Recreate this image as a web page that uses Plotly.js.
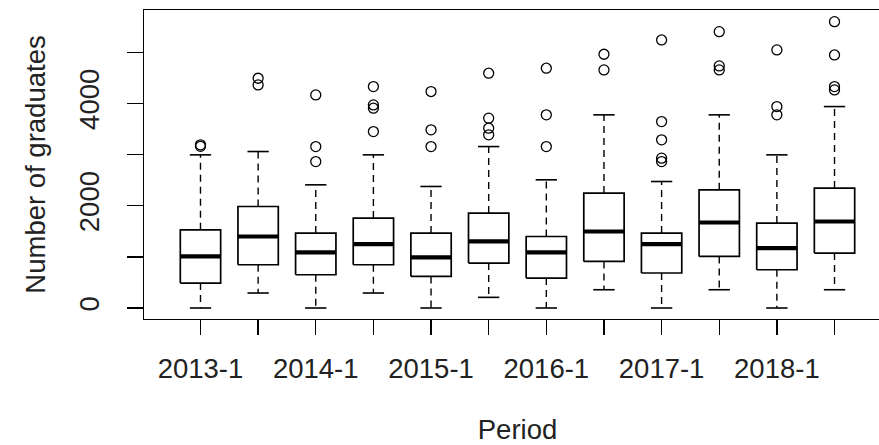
<!DOCTYPE html>
<html>
<head>
<meta charset="utf-8">
<script src="https://cdn.plot.ly/plotly-3.0.1.min.js"></script>
<style>
html,body{margin:0;padding:0;overflow:hidden;background:#fff;}
#chart{width:900px;height:445px;}
</style>
</head>
<body>
<div id="chart"></div>
<script>
const categories = ["2013-1","2013-2","2014-1","2014-2","2015-1","2015-2","2016-1","2016-2","2017-1","2017-2","2018-1","2018-2"];
const xTickLabels = ["2013-1","","2014-1","","2015-1","","2016-1","","2017-1","","2018-1",""];
const lowerWhisker = [0,293,0,293,0,208,0,357,0,357,0,357];
const q1 = [488,846,650,846,618,879,586,910,684,1008,748,1074];
const median = [1008,1398,1086,1250,989,1302,1086,1496,1250,1672,1172,1691];
const q3 = [1529,1984,1465,1758,1465,1855,1398,2246,1465,2311,1660,2344];
const upperWhisker = [2994,3059,2408,2994,2376,3156,2506,3776,2473,3776,2994,3938];
const outliers = [
  [3160,3190],
  [4361,4492],
  [2863,3156,4166],
  [3449,3906,3971,4329],
  [3156,3483,4232],
  [3385,3515,3711,4590],
  [3156,3776,4688],
  [4655,4961],
  [2863,2930,3287,3645,5240],
  [4655,4733,5402],
  [3776,3938,5045],
  [4264,4329,4947,5598]
];
const yTickVals = [0,1000,2000,3000,4000,5000];
const yTickLabels = ["0","","2000","","4000",""];

const half = 0.35, stapleHalf = 0.185;
const boxX=[], boxY=[], medX=[], medY=[], whX=[], whY=[], stX=[], stY=[], outX=[], outY=[];
categories.forEach((c,i)=>{
  const p = i+1;
  boxX.push(p-half,p+half,p+half,p-half,p-half,null);
  boxY.push(q1[i],q1[i],q3[i],q3[i],q1[i],null);
  medX.push(p-half,p+half,null);
  medY.push(median[i],median[i],null);
  whX.push(p,p,null,p,p,null);
  whY.push(q3[i],upperWhisker[i],null,q1[i],lowerWhisker[i],null);
  stX.push(p-stapleHalf,p+stapleHalf,null,p-stapleHalf,p+stapleHalf,null);
  stY.push(upperWhisker[i],upperWhisker[i],null,lowerWhisker[i],lowerWhisker[i],null);
  outliers[i].forEach(v=>{outX.push(p);outY.push(v);});
});

const traces = [
  {x:whX,y:whY,mode:'lines',line:{color:'#000',width:1.4,dash:'7px,5px'},hoverinfo:'skip'},
  {x:stX,y:stY,mode:'lines',line:{color:'#000',width:1.6},hoverinfo:'skip'},
  {x:boxX,y:boxY,mode:'lines',fill:'none',line:{color:'#000',width:1.7},hoverinfo:'skip'},
  {x:medX,y:medY,mode:'lines',line:{color:'#000',width:4.2},hoverinfo:'skip'},
  {x:outX,y:outY,mode:'markers',marker:{symbol:'circle-open',size:10,color:'#000',line:{width:1.3,color:'#000'}}}
];

const font = {family:'"Liberation Sans", Arial, sans-serif', size:27.5, color:'#222'};
const layout = {
  width:900, height:445,
  margin:{l:144,r:8.5,t:10,b:125.7,pad:0},
  showlegend:false,
  paper_bgcolor:'#fff', plot_bgcolor:'#fff',
  font:font,
  xaxis:{
    range:[0.02,12.98], tickmode:'array',
    tickvals:categories.map((c,i)=>i+1), ticktext:xTickLabels,
    ticks:'outside', ticklen:15, tickwidth:1.3, tickcolor:'#000',
    ticklabelstandoff:10,
    showline:true, mirror:true, linecolor:'#000', linewidth:1.3,
    showgrid:false, zeroline:false, tickfont:font,
    title:{text:'Period', font:font, standoff:38}
  },
  yaxis:{
    range:[-215,5826], tickmode:'array',
    tickvals:yTickVals, ticktext:yTickLabels, tickangle:-90,
    ticks:'outside', ticklen:16, tickwidth:1.3, tickcolor:'#000',
    ticklabelstandoff:17,
    showline:true, mirror:true, linecolor:'#000', linewidth:1.3,
    showgrid:false, zeroline:false, tickfont:font,
    title:{text:'Number of graduates', font:font, standoff:20}
  }
};
Plotly.newPlot('chart', traces, layout, {staticPlot:true, displayModeBar:false});
</script>
</body>
</html>
